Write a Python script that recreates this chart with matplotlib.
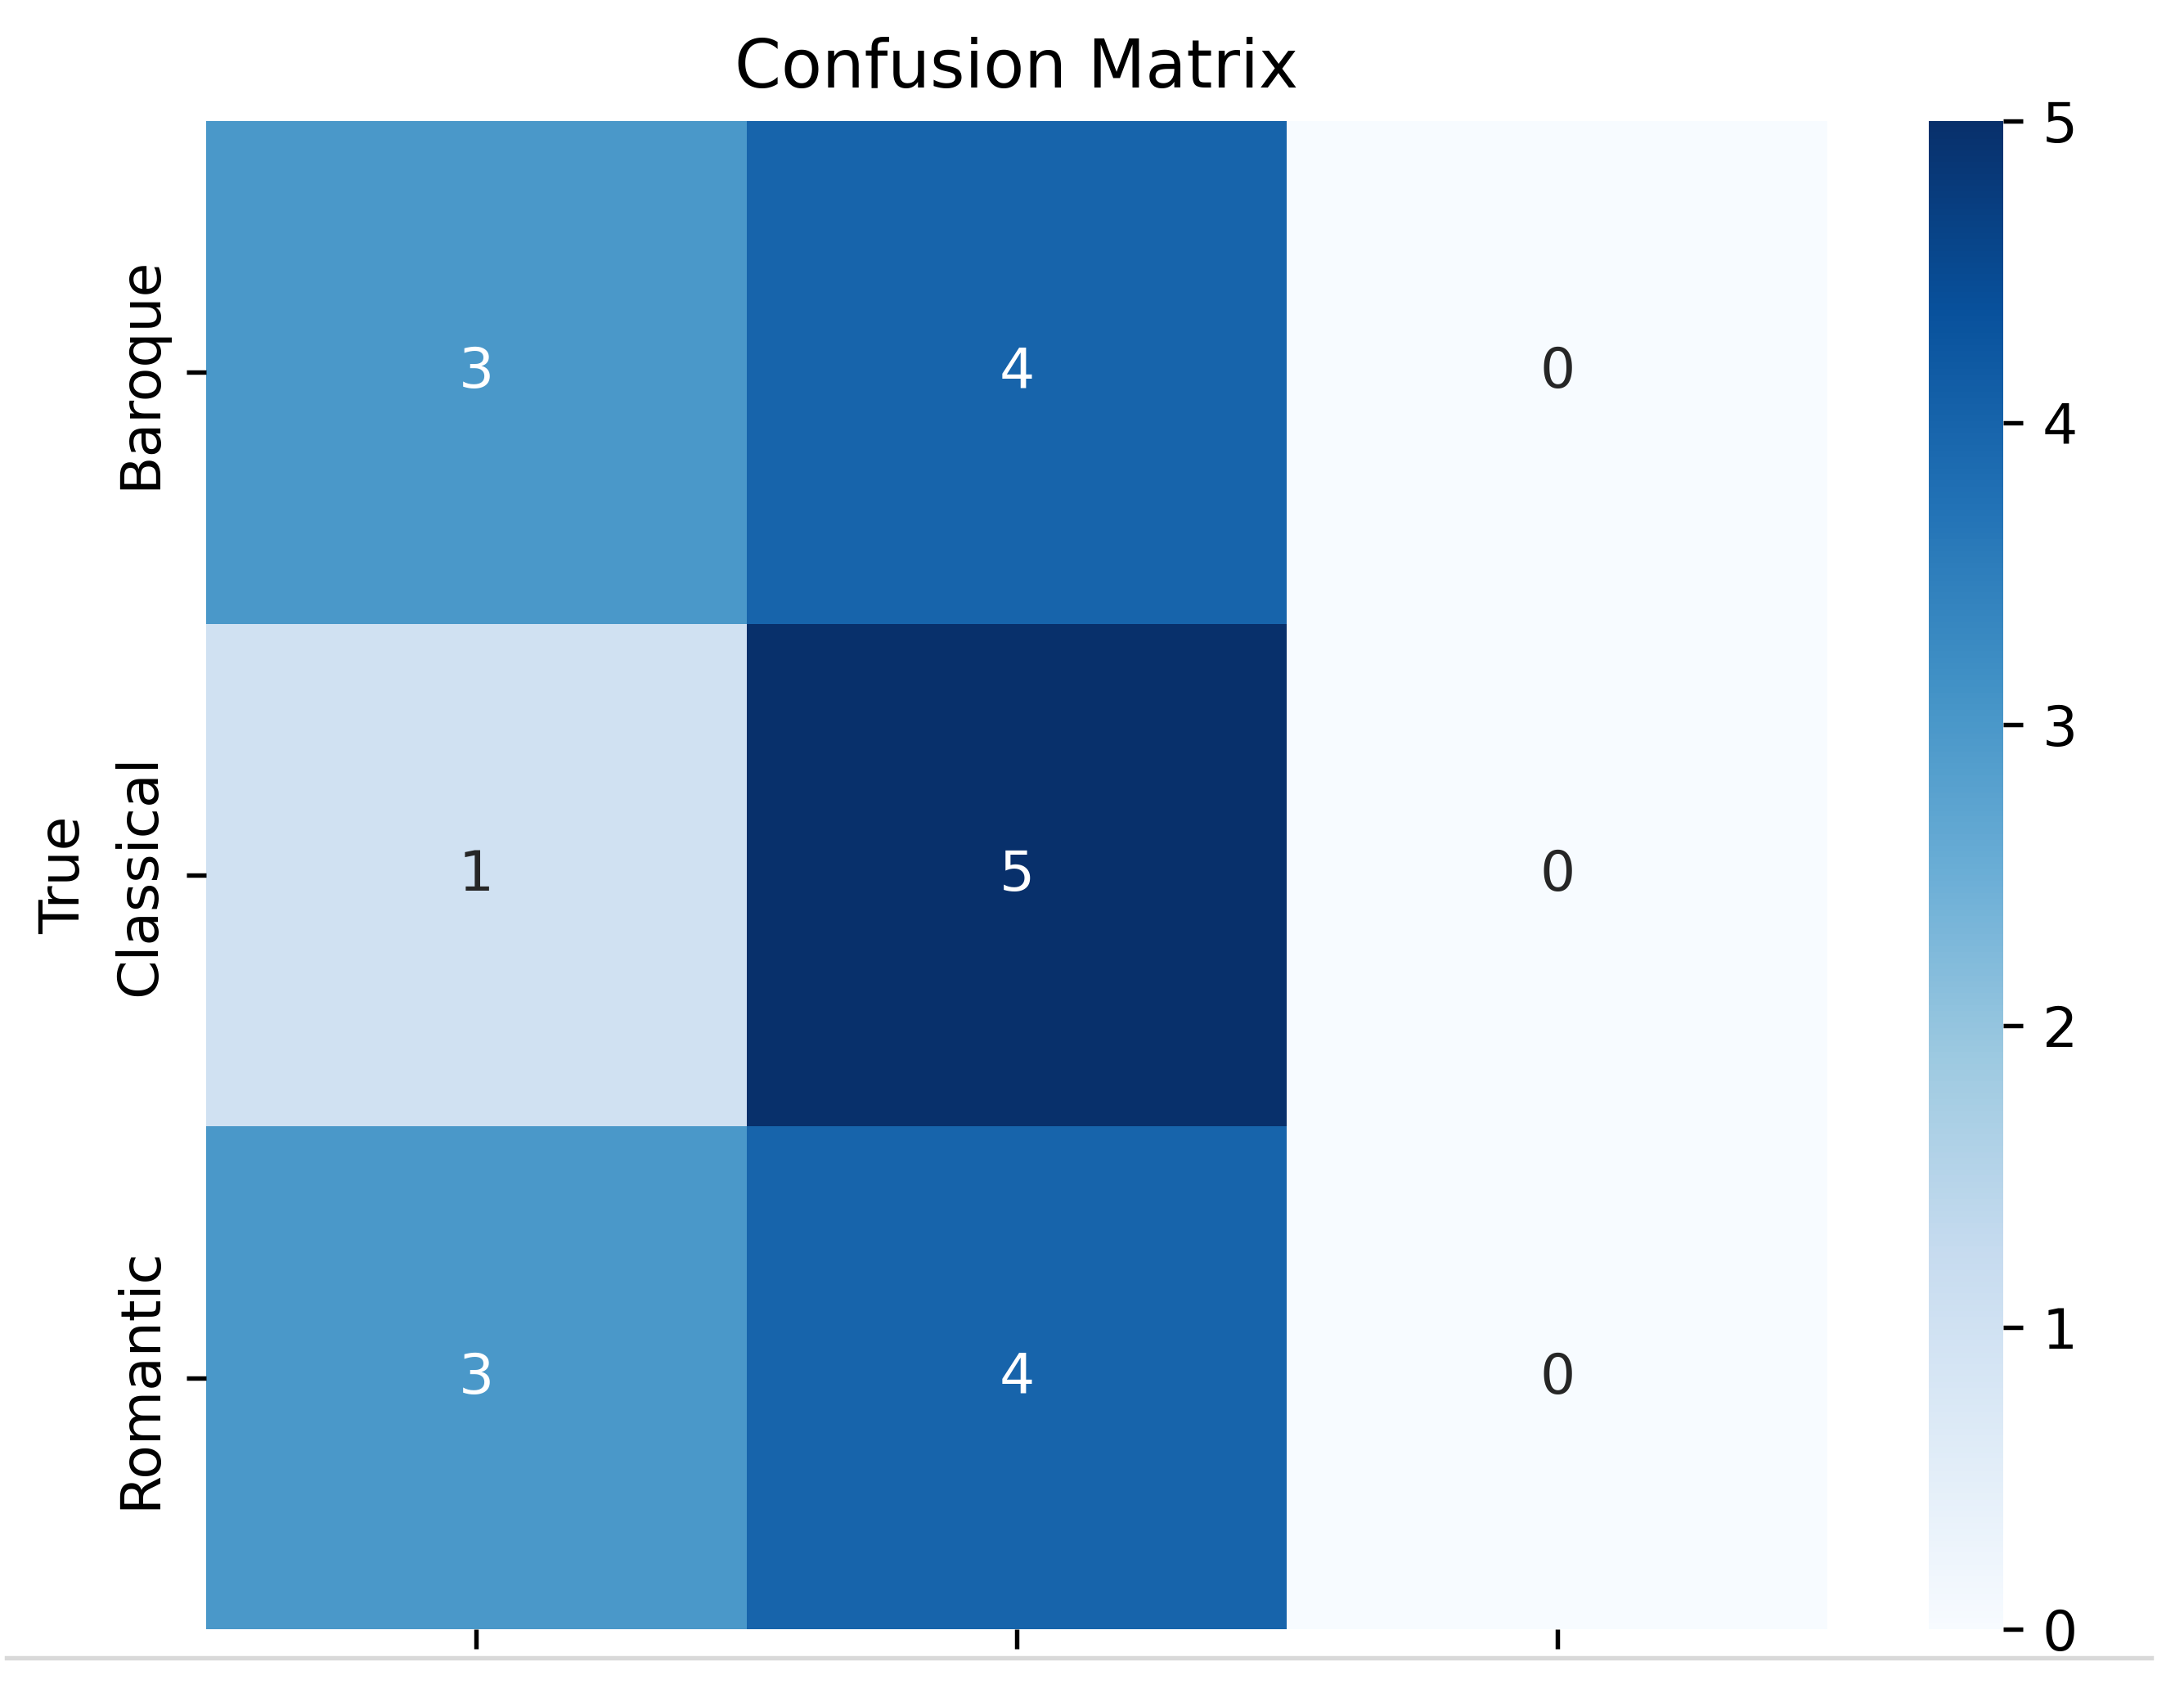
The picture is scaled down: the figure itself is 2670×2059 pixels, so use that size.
import matplotlib
matplotlib.use("Agg")
import matplotlib.pyplot as plt
from matplotlib.lines import Line2D
import numpy as np
import seaborn as sns

classes = ["Baroque", "Classical", "Romantic"]
row_baroque = [3, 4, 0]
row_classical = [1, 5, 0]
row_romantic = [3, 4, 0]

cm = np.array([row_baroque, row_classical, row_romantic])

fig = plt.figure(figsize=(2670 / 490, 2059 / 490), dpi=490)
ax = fig.add_axes([0.0944, 0.0325, 0.7423, 0.8956])
cax = fig.add_axes([0.8831, 0.0325, 0.0341, 0.8956])

sns.heatmap(cm, annot=True, fmt="d", cmap="Blues", ax=ax, cbar_ax=cax,
            xticklabels=classes, yticklabels=classes)
ax.set_title("Confusion Matrix")
ax.set_ylabel("True")
ax.tick_params(axis="x", labelbottom=False)

# grey edge line where the screenshot was cut
fig.add_artist(Line2D([0.003, 0.985], [0.0155, 0.0155], transform=fig.transFigure,
                      color="#d9d9d9", linewidth=0.8))

plt.savefig("out.png", dpi=490)
